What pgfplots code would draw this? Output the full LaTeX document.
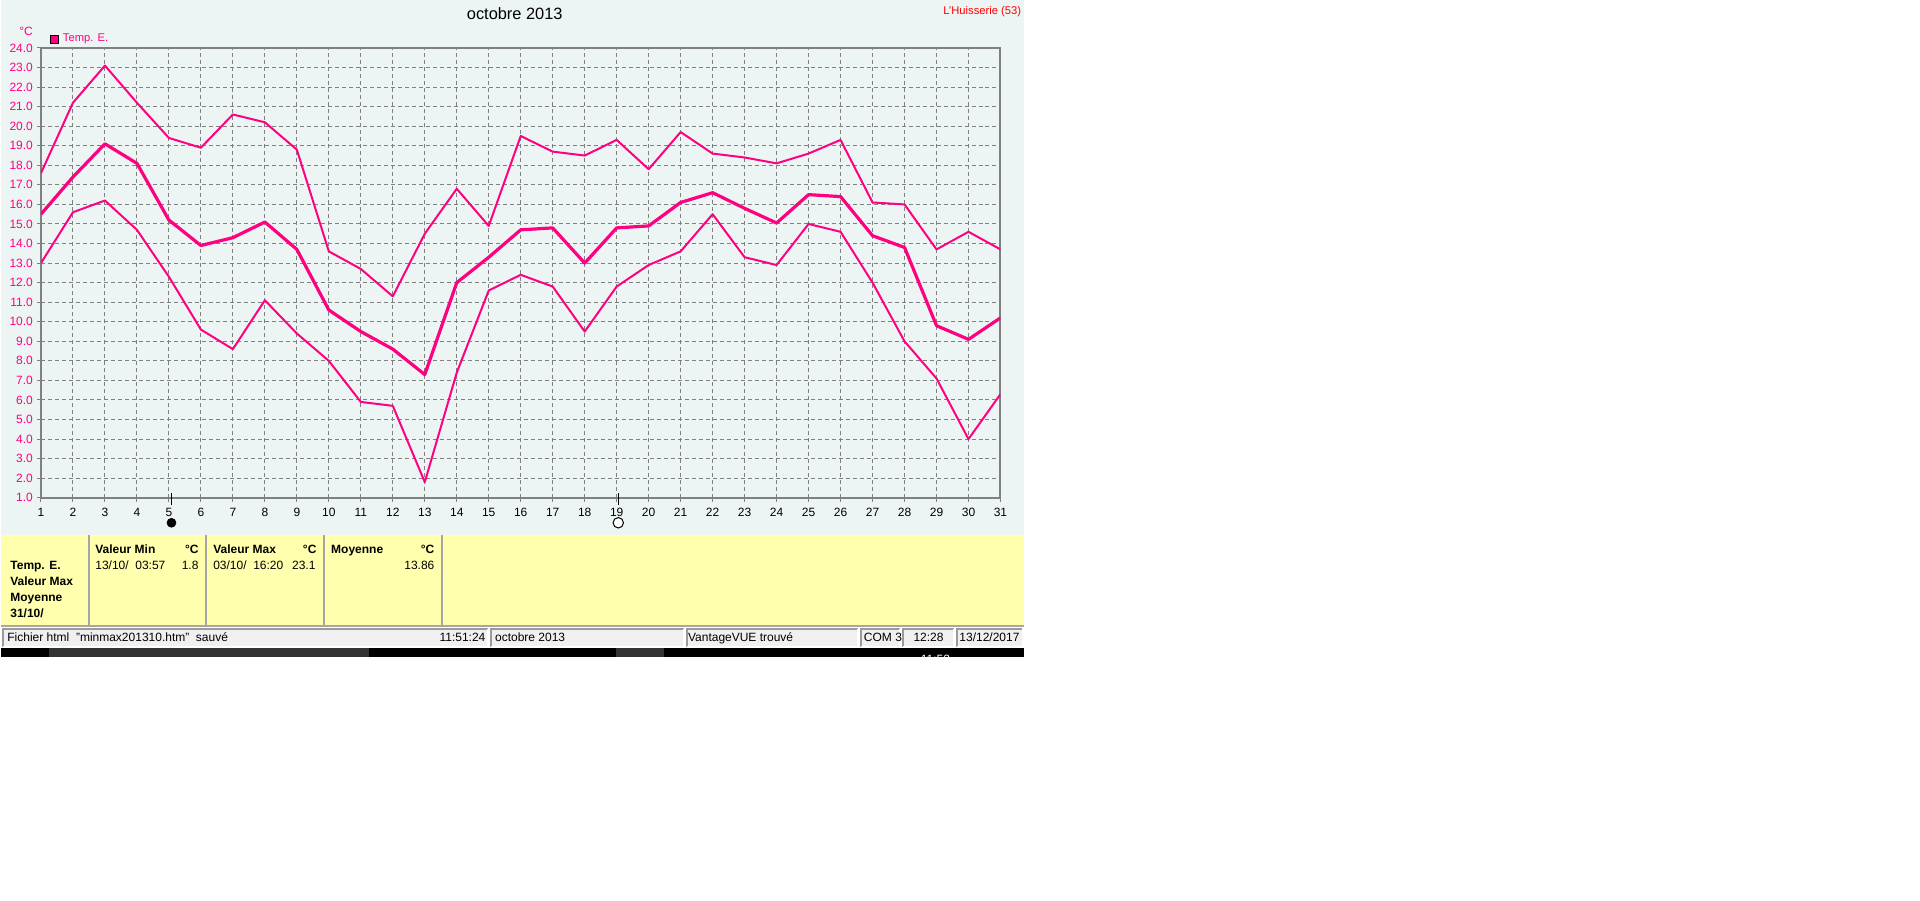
\documentclass[border=0pt]{standalone}
\usepackage{pgfplots}
\pgfplotsset{compat=1.18}
\usepackage{fontspec}
\setmainfont{Liberation Sans}
\definecolor{bgc}{HTML}{EDF5F4}
\definecolor{pk}{HTML}{FF0080}
\definecolor{ye}{HTML}{FFFFAE}
\definecolor{fr}{HTML}{808080}
\definecolor{sb}{HTML}{F0F0F0}
\newcommand{\fs}{\fontsize{6}{7}\selectfont}
\newcommand{\fb}{\fontsize{6}{7}\selectfont\bfseries}
\newcommand{\cell}[4]{\fill[sb] (#1,#3) rectangle (#2,#4);
 \draw[fr!80,line width=1pt] (#1,#4) -- (#1,#3) -- (#2,#3);
 \draw[white,line width=.5pt] (#1,#4) -- (#2,#4) -- (#2,#3);}
\begin{document}
\begin{tikzpicture}[x=0.5pt,y=-0.5pt]
\fill[white] (0,0) rectangle (1920,901);
\fill[bgc] (0,0) rectangle (1024,535);
\fill[ye] (0,535) rectangle (1024,626);
\foreach \xx in {88,205,323,441}{
 \draw[fr!70,line width=1pt] (\xx,535) -- (\xx,626);
}
\draw[fr!70,line width=1pt] (0,626.5) -- (1024,626.5);
\fill[white] (0,627) rectangle (1024,648);
\cell{2}{487}{629}{647}
\cell{490}{683}{629}{647}
\cell{686}{857}{629}{647}
\cell{860}{899}{629}{647}
\cell{902}{953}{629}{647}
\cell{956}{1022}{629}{647}
\fill[black] (0,648) rectangle (1024,657);
\fill[black!80] (48,648) rectangle (368,657);
\fill[black!80] (615,648) rectangle (663,657);
\begin{scope}
\clip (900,654) rectangle (1000,657);
\node[white,anchor=base,font=\fs] at (935,664) {11:52};
\end{scope}
\begin{axis}[
 at={(20pt,-249pt)},anchor=south west,
 scale only axis,width=480pt,height=225pt,
 xmin=1,xmax=31,ymin=1,ymax=24,
 clip mode=individual,
 xtick={1,...,31},ytick={1,...,24},
 yticklabel style={text=pk,font=\fs,/pgf/number format/.cd,fixed,fixed zerofill,precision=1,assume math mode=true},
 xticklabel style={font=\fs,/pgf/number format/assume math mode=true},
 tick style={draw=fr,line width=.5pt},
 major tick length=2pt,
 tick align=outside,tickpos=left,
 axis line style={draw=fr,line width=1pt},
 xticklabel shift=-0.5pt,yticklabel shift=-1.5pt,
 grid=major,
 grid style={draw=fr,line width=.5pt,dash pattern=on 2pt off 1.5pt},
 legend style={at={(0,1)},anchor=south west,xshift=4.5pt,yshift=-0.5pt,draw=none,fill=none,inner sep=0pt,outer sep=0pt,font=\fontsize{5.6}{7}\selectfont,text=pk,legend cell align=left},
 legend image code/.code={\fill[pk,draw=black,line width=.5pt] (0pt,-2pt) rectangle (4pt,2.2pt);},
]
\addplot[pk,line width=1pt,line join=round] coordinates {
(1,17.6)(2,21.2)(3,23.1)(4,21.2)(5,19.4)(6,18.9)(7,20.6)(8,20.2)(9,18.8)(10,13.6)(11,12.7)(12,11.3)(13,14.5)(14,16.8)(15,14.9)(16,19.5)(17,18.7)(18,18.5)(19,19.3)(20,17.8)(21,19.7)(22,18.6)(23,18.4)(24,18.1)(25,18.6)(26,19.3)(27,16.1)(28,16.0)(29,13.7)(30,14.6)(31,13.7)};
\addlegendentry{Temp. E.}
\addplot[pk,line width=1.6pt,line join=round,forget plot] coordinates {
(1,15.5)(2,17.4)(3,19.1)(4,18.1)(5,15.2)(6,13.9)(7,14.3)(8,15.1)(9,13.7)(10,10.6)(11,9.5)(12,8.6)(13,7.3)(14,12.0)(15,13.3)(16,14.7)(17,14.8)(18,13.0)(19,14.8)(20,14.9)(21,16.1)(22,16.6)(23,15.8)(24,15.05)(25,16.5)(26,16.4)(27,14.4)(28,13.8)(29,9.8)(30,9.1)(31,10.2)};
\addplot[pk,line width=1pt,line join=round,forget plot] coordinates {
(1,13.0)(2,15.6)(3,16.2)(4,14.7)(5,12.3)(6,9.6)(7,8.6)(8,11.1)(9,9.4)(10,8.0)(11,5.9)(12,5.7)(13,1.8)(14,7.4)(15,11.6)(16,12.4)(17,11.8)(18,9.5)(19,11.8)(20,12.9)(21,13.6)(22,15.5)(23,13.3)(24,12.9)(25,15.0)(26,14.6)(27,12.0)(28,9.0)(29,7.1)(30,4.0)(31,6.3)};
\addplot[black,line width=.5pt,forget plot,clip=false] coordinates {(5.08,1.25)(5.08,0.62)};
\addplot[black,line width=.5pt,forget plot,clip=false] coordinates {(19.05,1.25)(19.05,0.62)};
\addplot[only marks,mark=*,mark size=2.2pt,mark options={fill=black,draw=black},forget plot,clip=false] coordinates {(5.08,-0.28)};
\addplot[only marks,mark=*,mark size=2.6pt,mark options={fill=white,draw=black,line width=.5pt},forget plot,clip=false] coordinates {(19.05,-0.28)};
\end{axis}
\begin{scope}[every node/.append style={inner sep=0pt,anchor=base west}]
\node[anchor=base,font=\fontsize{8.2}{10}\selectfont] at (514,20) {octobre 2013};
\node[anchor=base east,font=\fontsize{5.6}{7}\selectfont,red] at (1021,15) {L'Huisserie (53)};
\node[anchor=base,pk,font=\fs] at (25,36) {°C};
% panel text
\node[font=\fb] at (9,570) {Temp. E.};
\node[font=\fb] at (9,586) {Valeur Max};
\node[font=\fb] at (9,602) {Moyenne};
\node[font=\fb] at (9,618) {31/10/};
\node[font=\fb] at (94,554) {Valeur Min};
\node[anchor=base east,font=\fb] at (198,554) {°C};
\node[font=\fs] at (94,570) {13/10/\ \ 03:57};
\node[anchor=base east,font=\fs] at (198,570) {1.8};
\node[font=\fb] at (212,554) {Valeur Max};
\node[anchor=base east,font=\fb] at (316,554) {°C};
\node[font=\fs] at (212,570) {03/10/\ \ 16:20};
\node[anchor=base east,font=\fs] at (315,570) {23.1};
\node[font=\fb] at (330,554) {Moyenne};
\node[anchor=base east,font=\fb] at (434,554) {°C};
\node[anchor=base east,font=\fs] at (434,570) {13.86};
% status
\node[font=\fs] at (6,642) {Fichier html\ \ "minmax201310.htm"\ \ sauvé};
\node[anchor=base east,font=\fs] at (485,642) {11:51:24};
\node[font=\fs] at (494,642) {octobre 2013};
\node[font=\fs] at (687,642) {VantageVUE trouvé};
\node[font=\fs] at (863,642) {COM 3};
\node[anchor=base,font=\fs] at (928,642) {12:28};
\node[anchor=base,font=\fs] at (989,642) {13/12/2017};
\end{scope}
\end{tikzpicture}
\end{document}
